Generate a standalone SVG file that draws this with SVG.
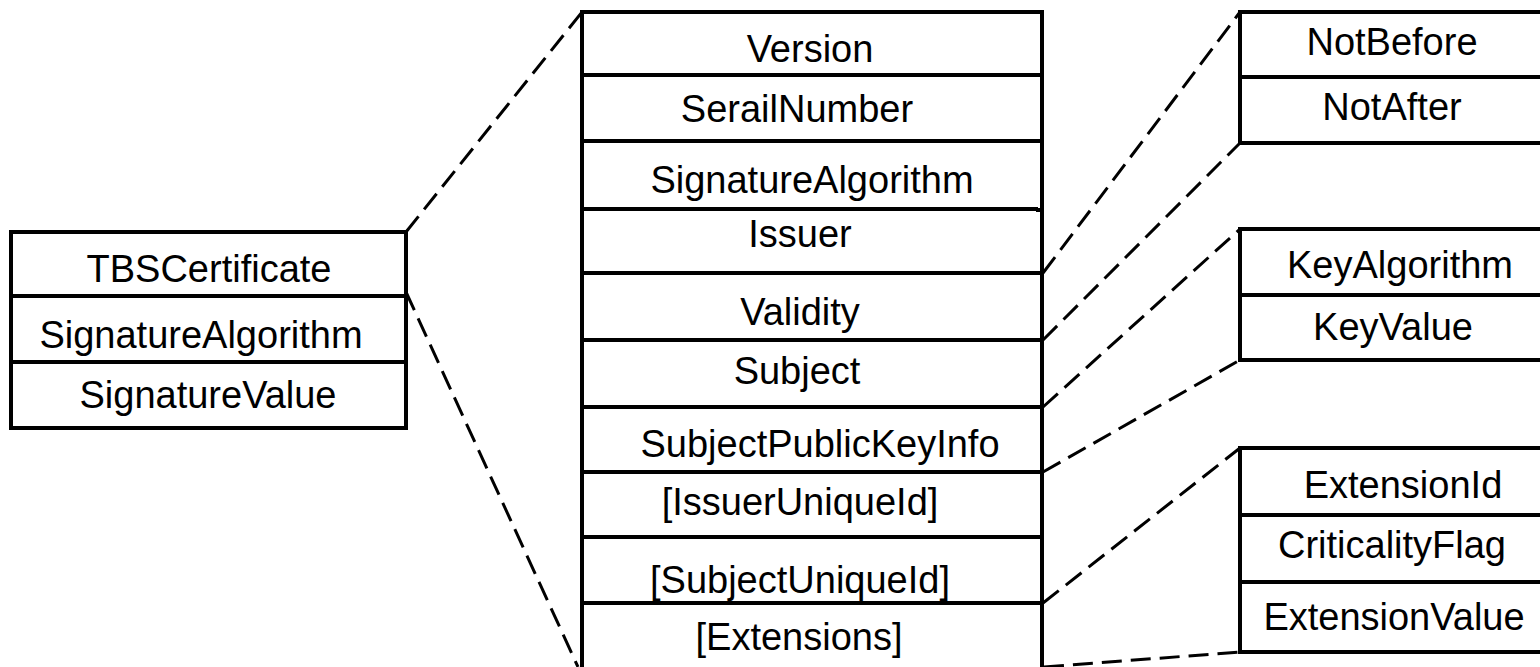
<svg xmlns="http://www.w3.org/2000/svg" width="1540" height="667" viewBox="0 0 1540 667">
  <style>
    .box { fill: #ffffff; stroke: #000000; stroke-width: 4; }
    .rule { stroke: #000000; stroke-width: 4; fill: none; }
    .lbl { font-family: "Liberation Sans", Arial, sans-serif; font-size: 38px; fill: #000000; text-anchor: middle; }
    .dash { stroke: #000000; stroke-width: 3; fill: none; stroke-dasharray: 20 9; }
  </style>
  <rect width="1540" height="667" fill="#ffffff"/>

  <!-- dashed expansion lines -->
  <g id="connectors">
    <line class="dash" x1="406" y1="232" x2="582" y2="12"/>
    <line class="dash" x1="406" y1="292" x2="578" y2="667"/>
    <line class="dash" x1="1043" y1="273" x2="1240" y2="12"/>
    <line class="dash" x1="1043" y1="340" x2="1240" y2="143"/>
    <line class="dash" x1="1043" y1="407" x2="1240" y2="229"/>
    <line class="dash" x1="1043" y1="472" x2="1240" y2="360"/>
    <line class="dash" x1="1043" y1="603" x2="1240" y2="448"/>
    <line class="dash" x1="1044" y1="667" x2="1240" y2="652"/>
  </g>

  <!-- Certificate -->
  <g id="certificate">
    <rect class="box" x="11" y="232" width="395" height="196"/>
    <line class="rule" x1="11" y1="296" x2="406" y2="296"/>
    <line class="rule" x1="11" y1="362" x2="406" y2="362"/>
    <text class="lbl" x="209" y="282">TBSCertificate</text>
    <text class="lbl" x="201" y="348">SignatureAlgorithm</text>
    <text class="lbl" x="208" y="408">SignatureValue</text>
  </g>

  <!-- TBSCertificate fields -->
  <g id="tbs-certificate">
    <path class="rule" d="M582,669 V12 H1042 V208"/>
    <path class="rule" d="M1038,208 V210 H1042 V669"/>
    <line class="rule" x1="582" y1="75" x2="1042" y2="75"/>
    <line class="rule" x1="582" y1="141" x2="1042" y2="141"/>
    <line class="rule" x1="582" y1="209" x2="1038" y2="209"/>
    <line class="rule" x1="582" y1="273" x2="1042" y2="273"/>
    <line class="rule" x1="582" y1="340" x2="1042" y2="340"/>
    <line class="rule" x1="582" y1="407" x2="1042" y2="407"/>
    <line class="rule" x1="582" y1="472" x2="1042" y2="472"/>
    <line class="rule" x1="582" y1="537" x2="1042" y2="537"/>
    <line class="rule" x1="582" y1="603" x2="1042" y2="603"/>
    <text class="lbl" x="810" y="62">Version</text>
    <text class="lbl" x="797" y="122">SerailNumber</text>
    <text class="lbl" x="812" y="193">SignatureAlgorithm</text>
    <text class="lbl" x="800" y="247">Issuer</text>
    <text class="lbl" x="800" y="325">Validity</text>
    <text class="lbl" x="797" y="384">Subject</text>
    <text class="lbl" x="820" y="457">SubjectPublicKeyInfo</text>
    <text class="lbl" x="800" y="515">[IssuerUniqueId]</text>
    <text class="lbl" x="800" y="593">[SubjectUniqueId]</text>
    <text class="lbl" x="799" y="650">[Extensions]</text>
  </g>

  <!-- Validity -->
  <g id="validity">
    <path class="rule" d="M1545,12 H1240 V143 H1545"/>
    <line class="rule" x1="1240" y1="77" x2="1545" y2="77"/>
    <text class="lbl" x="1392" y="55">NotBefore</text>
    <text class="lbl" x="1392" y="120">NotAfter</text>
  </g>

  <!-- SubjectPublicKeyInfo -->
  <g id="subject-public-key-info">
    <path class="rule" d="M1545,229 H1240 V360 H1545"/>
    <line class="rule" x1="1240" y1="295" x2="1545" y2="295"/>
    <text class="lbl" x="1400" y="278">KeyAlgorithm</text>
    <text class="lbl" x="1393" y="340">KeyValue</text>
  </g>

  <!-- Extension -->
  <g id="extension">
    <path class="rule" d="M1545,448 H1240 V652 H1545"/>
    <line class="rule" x1="1240" y1="515" x2="1545" y2="515"/>
    <line class="rule" x1="1240" y1="582" x2="1545" y2="582"/>
    <text class="lbl" x="1403" y="498">ExtensionId</text>
    <text class="lbl" x="1392" y="558">CriticalityFlag</text>
    <text class="lbl" x="1394" y="630">ExtensionValue</text>
  </g>
</svg>
